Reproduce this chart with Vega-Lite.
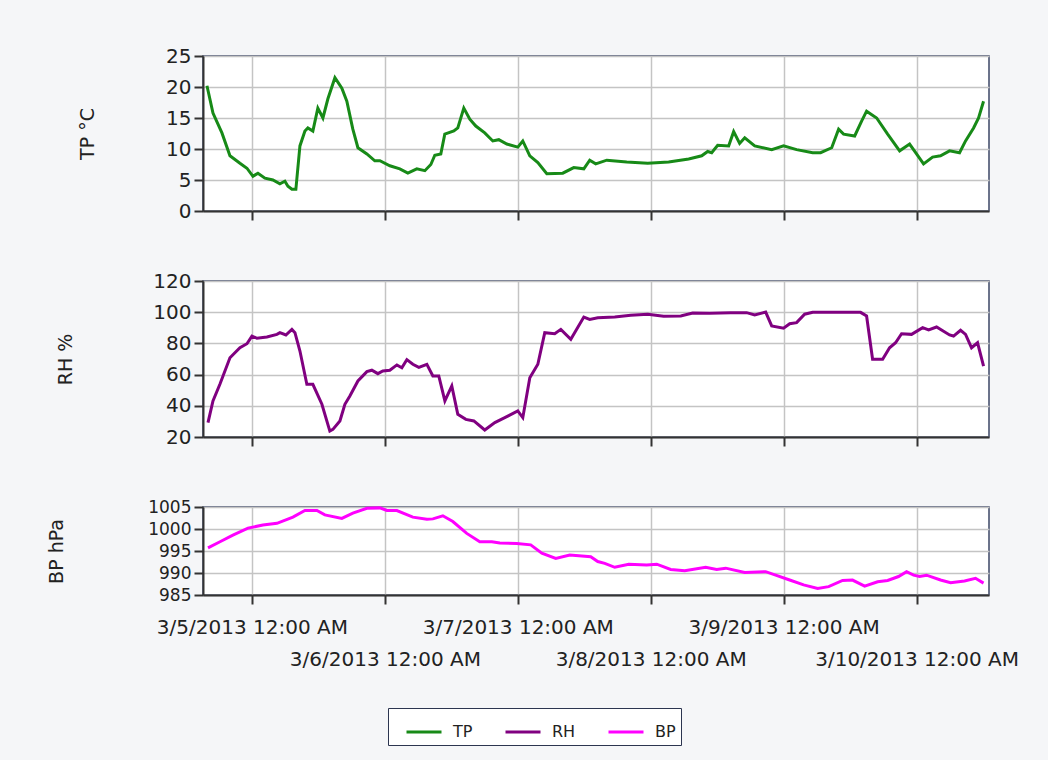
{
 "$schema": "https://vega.github.io/schema/vega-lite/v6.json",
 "background": "#f5f6f8",
 "padding": {"left": 46, "top": 45, "right": 35, "bottom": 18},
 "bounds": "flush",
 "spacing": 70,
 "datasets": {
  "d": [
   {"t":"2013-03-04T15:53Z","s":"TP","v":20.2},{"t":"2013-03-04T16:58Z","s":"TP","v":15.8},{"t":"2013-03-04T18:35Z","s":"TP","v":12.6},{"t":"2013-03-04T20:02Z","s":"TP","v":8.9},{"t":"2013-03-04T21:50Z","s":"TP","v":7.7},{"t":"2013-03-04T23:06Z","s":"TP","v":6.9},{"t":"2013-03-05T00:11Z","s":"TP","v":5.6},{"t":"2013-03-05T01:05Z","s":"TP","v":6.1},{"t":"2013-03-05T02:21Z","s":"TP","v":5.3},{"t":"2013-03-05T03:47Z","s":"TP","v":5.0},{"t":"2013-03-05T05:03Z","s":"TP","v":4.4},{"t":"2013-03-05T05:57Z","s":"TP","v":4.8},{"t":"2013-03-05T06:30Z","s":"TP","v":4.0},{"t":"2013-03-05T07:13Z","s":"TP","v":3.5},{"t":"2013-03-05T07:56Z","s":"TP","v":3.5},{"t":"2013-03-05T08:40Z","s":"TP","v":10.5},{"t":"2013-03-05T09:34Z","s":"TP","v":12.9},{"t":"2013-03-05T10:06Z","s":"TP","v":13.4},{"t":"2013-03-05T11:00Z","s":"TP","v":12.9},{"t":"2013-03-05T11:54Z","s":"TP","v":16.6},{"t":"2013-03-05T12:49Z","s":"TP","v":15.0},{"t":"2013-03-05T13:43Z","s":"TP","v":18.1},{"t":"2013-03-05T14:59Z","s":"TP","v":21.5},{"t":"2013-03-05T16:14Z","s":"TP","v":19.8},{"t":"2013-03-05T17:08Z","s":"TP","v":17.7},{"t":"2013-03-05T18:13Z","s":"TP","v":13.2},{"t":"2013-03-05T19:08Z","s":"TP","v":10.2},{"t":"2013-03-05T20:45Z","s":"TP","v":9.2},{"t":"2013-03-05T22:11Z","s":"TP","v":8.1},{"t":"2013-03-05T23:06Z","s":"TP","v":8.1},{"t":"2013-03-06T00:54Z","s":"TP","v":7.3},{"t":"2013-03-06T02:42Z","s":"TP","v":6.8},{"t":"2013-03-06T04:09Z","s":"TP","v":6.1},{"t":"2013-03-06T05:46Z","s":"TP","v":6.8},{"t":"2013-03-06T07:13Z","s":"TP","v":6.5},{"t":"2013-03-06T08:18Z","s":"TP","v":7.5},{"t":"2013-03-06T09:01Z","s":"TP","v":9.0},{"t":"2013-03-06T10:06Z","s":"TP","v":9.2},{"t":"2013-03-06T10:49Z","s":"TP","v":12.4},{"t":"2013-03-06T12:27Z","s":"TP","v":12.9},{"t":"2013-03-06T13:10Z","s":"TP","v":13.4},{"t":"2013-03-06T14:15Z","s":"TP","v":16.6},{"t":"2013-03-06T15:20Z","s":"TP","v":14.8},{"t":"2013-03-06T16:25Z","s":"TP","v":13.7},{"t":"2013-03-06T18:02Z","s":"TP","v":12.6},{"t":"2013-03-06T19:29Z","s":"TP","v":11.3},{"t":"2013-03-06T20:34Z","s":"TP","v":11.5},{"t":"2013-03-06T22:01Z","s":"TP","v":10.8},{"t":"2013-03-07T00:00Z","s":"TP","v":10.3},{"t":"2013-03-07T00:54Z","s":"TP","v":11.3},{"t":"2013-03-07T02:10Z","s":"TP","v":8.9},{"t":"2013-03-07T03:37Z","s":"TP","v":7.8},{"t":"2013-03-07T05:14Z","s":"TP","v":6.0},{"t":"2013-03-07T08:07Z","s":"TP","v":6.1},{"t":"2013-03-07T10:06Z","s":"TP","v":7.0},{"t":"2013-03-07T11:55Z","s":"TP","v":6.8},{"t":"2013-03-07T12:59Z","s":"TP","v":8.2},{"t":"2013-03-07T14:04Z","s":"TP","v":7.6},{"t":"2013-03-07T16:04Z","s":"TP","v":8.2},{"t":"2013-03-07T19:40Z","s":"TP","v":7.9},{"t":"2013-03-07T23:27Z","s":"TP","v":7.7},{"t":"2013-03-08T03:14Z","s":"TP","v":7.9},{"t":"2013-03-08T06:51Z","s":"TP","v":8.4},{"t":"2013-03-08T09:12Z","s":"TP","v":8.9},{"t":"2013-03-08T10:17Z","s":"TP","v":9.6},{"t":"2013-03-08T11:00Z","s":"TP","v":9.4},{"t":"2013-03-08T12:05Z","s":"TP","v":10.6},{"t":"2013-03-08T14:04Z","s":"TP","v":10.5},{"t":"2013-03-08T14:58Z","s":"TP","v":12.8},{"t":"2013-03-08T16:03Z","s":"TP","v":10.9},{"t":"2013-03-08T16:58Z","s":"TP","v":11.8},{"t":"2013-03-08T18:46Z","s":"TP","v":10.5},{"t":"2013-03-08T21:50Z","s":"TP","v":9.9},{"t":"2013-03-08T23:59Z","s":"TP","v":10.5},{"t":"2013-03-09T02:20Z","s":"TP","v":9.9},{"t":"2013-03-09T05:14Z","s":"TP","v":9.4},{"t":"2013-03-09T06:40Z","s":"TP","v":9.4},{"t":"2013-03-09T08:40Z","s":"TP","v":10.2},{"t":"2013-03-09T09:55Z","s":"TP","v":13.2},{"t":"2013-03-09T10:49Z","s":"TP","v":12.4},{"t":"2013-03-09T12:49Z","s":"TP","v":12.1},{"t":"2013-03-09T14:04Z","s":"TP","v":14.5},{"t":"2013-03-09T14:58Z","s":"TP","v":16.1},{"t":"2013-03-09T16:47Z","s":"TP","v":15.0},{"t":"2013-03-09T18:46Z","s":"TP","v":12.4},{"t":"2013-03-09T20:56Z","s":"TP","v":9.7},{"t":"2013-03-09T22:44Z","s":"TP","v":10.8},{"t":"2013-03-09T23:59Z","s":"TP","v":9.2},{"t":"2013-03-10T01:15Z","s":"TP","v":7.6},{"t":"2013-03-10T02:53Z","s":"TP","v":8.7},{"t":"2013-03-10T04:19Z","s":"TP","v":8.9},{"t":"2013-03-10T05:57Z","s":"TP","v":9.7},{"t":"2013-03-10T07:45Z","s":"TP","v":9.4},{"t":"2013-03-10T08:50Z","s":"TP","v":11.3},{"t":"2013-03-10T10:17Z","s":"TP","v":13.4},{"t":"2013-03-10T11:11Z","s":"TP","v":15.0},{"t":"2013-03-10T12:05Z","s":"TP","v":17.7},
   {"t":"2013-03-04T16:04Z","s":"RH","v":29.2},{"t":"2013-03-04T16:58Z","s":"RH","v":43.1},{"t":"2013-03-04T18:14Z","s":"RH","v":54},{"t":"2013-03-04T20:02Z","s":"RH","v":70.8},{"t":"2013-03-04T21:50Z","s":"RH","v":77.2},{"t":"2013-03-04T23:06Z","s":"RH","v":79.8},{"t":"2013-03-05T00:00Z","s":"RH","v":84.7},{"t":"2013-03-05T00:54Z","s":"RH","v":83.3},{"t":"2013-03-05T02:42Z","s":"RH","v":84.1},{"t":"2013-03-05T04:31Z","s":"RH","v":85.8},{"t":"2013-03-05T05:03Z","s":"RH","v":86.9},{"t":"2013-03-05T06:08Z","s":"RH","v":85.4},{"t":"2013-03-05T07:13Z","s":"RH","v":89},{"t":"2013-03-05T07:46Z","s":"RH","v":86.9},{"t":"2013-03-05T08:40Z","s":"RH","v":75.1},{"t":"2013-03-05T09:55Z","s":"RH","v":53.8},{"t":"2013-03-05T11:00Z","s":"RH","v":53.8},{"t":"2013-03-05T12:38Z","s":"RH","v":41},{"t":"2013-03-05T14:04Z","s":"RH","v":23.8},{"t":"2013-03-05T14:37Z","s":"RH","v":24.9},{"t":"2013-03-05T15:53Z","s":"RH","v":30.3},{"t":"2013-03-05T16:47Z","s":"RH","v":41},{"t":"2013-03-05T17:41Z","s":"RH","v":46.3},{"t":"2013-03-05T19:08Z","s":"RH","v":55.9},{"t":"2013-03-05T20:45Z","s":"RH","v":61.9},{"t":"2013-03-05T21:39Z","s":"RH","v":62.8},{"t":"2013-03-05T22:44Z","s":"RH","v":60.6},{"t":"2013-03-05T23:38Z","s":"RH","v":62.3},{"t":"2013-03-06T00:54Z","s":"RH","v":62.8},{"t":"2013-03-06T02:10Z","s":"RH","v":66.2},{"t":"2013-03-06T03:04Z","s":"RH","v":64.4},{"t":"2013-03-06T03:58Z","s":"RH","v":69.6},{"t":"2013-03-06T05:03Z","s":"RH","v":66.6},{"t":"2013-03-06T06:08Z","s":"RH","v":64.6},{"t":"2013-03-06T07:35Z","s":"RH","v":66.6},{"t":"2013-03-06T08:40Z","s":"RH","v":59.1},{"t":"2013-03-06T09:44Z","s":"RH","v":59.1},{"t":"2013-03-06T10:50Z","s":"RH","v":43.1},{"t":"2013-03-06T12:05Z","s":"RH","v":52.7},{"t":"2013-03-06T13:10Z","s":"RH","v":34.5},{"t":"2013-03-06T14:37Z","s":"RH","v":31.3},{"t":"2013-03-06T16:04Z","s":"RH","v":30.3},{"t":"2013-03-06T18:02Z","s":"RH","v":24.5},{"t":"2013-03-06T19:51Z","s":"RH","v":29.2},{"t":"2013-03-06T21:39Z","s":"RH","v":32.4},{"t":"2013-03-07T00:00Z","s":"RH","v":36.7},{"t":"2013-03-07T00:54Z","s":"RH","v":32.4},{"t":"2013-03-07T02:10Z","s":"RH","v":58.0},{"t":"2013-03-07T03:37Z","s":"RH","v":66.6},{"t":"2013-03-07T04:52Z","s":"RH","v":86.9},{"t":"2013-03-07T06:40Z","s":"RH","v":86.2},{"t":"2013-03-07T07:46Z","s":"RH","v":89},{"t":"2013-03-07T09:34Z","s":"RH","v":82.6},{"t":"2013-03-07T11:55Z","s":"RH","v":96.9},{"t":"2013-03-07T12:59Z","s":"RH","v":95.4},{"t":"2013-03-07T14:26Z","s":"RH","v":96.5},{"t":"2013-03-07T17:30Z","s":"RH","v":96.9},{"t":"2013-03-07T20:23Z","s":"RH","v":98},{"t":"2013-03-07T23:27Z","s":"RH","v":98.7},{"t":"2013-03-08T02:20Z","s":"RH","v":97.4},{"t":"2013-03-08T05:25Z","s":"RH","v":97.6},{"t":"2013-03-08T07:34Z","s":"RH","v":99.5},{"t":"2013-03-08T10:38Z","s":"RH","v":99.3},{"t":"2013-03-08T14:26Z","s":"RH","v":99.7},{"t":"2013-03-08T17:19Z","s":"RH","v":99.7},{"t":"2013-03-08T18:46Z","s":"RH","v":98.2},{"t":"2013-03-08T20:45Z","s":"RH","v":100.1},{"t":"2013-03-08T21:50Z","s":"RH","v":91.2},{"t":"2013-03-08T23:59Z","s":"RH","v":89.7},{"t":"2013-03-09T01:05Z","s":"RH","v":92.6},{"t":"2013-03-09T02:20Z","s":"RH","v":93.3},{"t":"2013-03-09T03:47Z","s":"RH","v":98.7},{"t":"2013-03-09T05:14Z","s":"RH","v":99.9},{"t":"2013-03-09T09:01Z","s":"RH","v":99.9},{"t":"2013-03-09T13:53Z","s":"RH","v":99.9},{"t":"2013-03-09T14:58Z","s":"RH","v":97.6},{"t":"2013-03-09T16:03Z","s":"RH","v":69.8},{"t":"2013-03-09T17:52Z","s":"RH","v":69.8},{"t":"2013-03-09T19:07Z","s":"RH","v":77.2},{"t":"2013-03-09T20:12Z","s":"RH","v":80.4},{"t":"2013-03-09T21:17Z","s":"RH","v":86.2},{"t":"2013-03-09T23:05Z","s":"RH","v":85.8},{"t":"2013-03-10T01:05Z","s":"RH","v":90.1},{"t":"2013-03-10T02:10Z","s":"RH","v":88.6},{"t":"2013-03-10T03:36Z","s":"RH","v":90.5},{"t":"2013-03-10T05:57Z","s":"RH","v":85.4},{"t":"2013-03-10T06:40Z","s":"RH","v":84.7},{"t":"2013-03-10T07:56Z","s":"RH","v":88.4},{"t":"2013-03-10T08:50Z","s":"RH","v":85.8},{"t":"2013-03-10T09:55Z","s":"RH","v":77.2},{"t":"2013-03-10T11:00Z","s":"RH","v":80.4},{"t":"2013-03-10T12:05Z","s":"RH","v":65.5},
   {"t":"2013-03-04T16:04Z","s":"BP","v":995.7},{"t":"2013-03-04T18:14Z","s":"BP","v":997.1},{"t":"2013-03-04T20:34Z","s":"BP","v":998.6},{"t":"2013-03-04T23:17Z","s":"BP","v":1000.2},{"t":"2013-03-05T01:59Z","s":"BP","v":1000.9},{"t":"2013-03-05T04:31Z","s":"BP","v":1001.3},{"t":"2013-03-05T07:24Z","s":"BP","v":1002.7},{"t":"2013-03-05T09:34Z","s":"BP","v":1004.2},{"t":"2013-03-05T11:44Z","s":"BP","v":1004.2},{"t":"2013-03-05T13:10Z","s":"BP","v":1003.2},{"t":"2013-03-05T16:14Z","s":"BP","v":1002.4},{"t":"2013-03-05T18:13Z","s":"BP","v":1003.6},{"t":"2013-03-05T20:45Z","s":"BP","v":1004.7},{"t":"2013-03-05T23:06Z","s":"BP","v":1004.8},{"t":"2013-03-06T00:22Z","s":"BP","v":1004.2},{"t":"2013-03-06T02:10Z","s":"BP","v":1004.2},{"t":"2013-03-06T05:03Z","s":"BP","v":1002.7},{"t":"2013-03-06T07:35Z","s":"BP","v":1002.2},{"t":"2013-03-06T08:40Z","s":"BP","v":1002.3},{"t":"2013-03-06T10:28Z","s":"BP","v":1003.0},{"t":"2013-03-06T12:16Z","s":"BP","v":1001.7},{"t":"2013-03-06T14:47Z","s":"BP","v":999.0},{"t":"2013-03-06T17:08Z","s":"BP","v":997.1},{"t":"2013-03-06T19:19Z","s":"BP","v":997.1},{"t":"2013-03-06T20:45Z","s":"BP","v":996.8},{"t":"2013-03-06T23:49Z","s":"BP","v":996.7},{"t":"2013-03-07T02:20Z","s":"BP","v":996.4},{"t":"2013-03-07T04:20Z","s":"BP","v":994.5},{"t":"2013-03-07T06:51Z","s":"BP","v":993.3},{"t":"2013-03-07T09:23Z","s":"BP","v":994.1},{"t":"2013-03-07T13:10Z","s":"BP","v":993.7},{"t":"2013-03-07T14:26Z","s":"BP","v":992.6},{"t":"2013-03-07T15:42Z","s":"BP","v":992.2},{"t":"2013-03-07T17:30Z","s":"BP","v":991.3},{"t":"2013-03-07T20:02Z","s":"BP","v":992.0},{"t":"2013-03-07T23:16Z","s":"BP","v":991.8},{"t":"2013-03-08T01:05Z","s":"BP","v":992.0},{"t":"2013-03-08T03:36Z","s":"BP","v":990.8},{"t":"2013-03-08T06:08Z","s":"BP","v":990.5},{"t":"2013-03-08T09:55Z","s":"BP","v":991.3},{"t":"2013-03-08T11:54Z","s":"BP","v":990.8},{"t":"2013-03-08T13:32Z","s":"BP","v":991.1},{"t":"2013-03-08T16:58Z","s":"BP","v":990.1},{"t":"2013-03-08T20:45Z","s":"BP","v":990.3},{"t":"2013-03-08T22:33Z","s":"BP","v":989.5},{"t":"2013-03-09T01:05Z","s":"BP","v":988.4},{"t":"2013-03-09T03:36Z","s":"BP","v":987.3},{"t":"2013-03-09T06:08Z","s":"BP","v":986.5},{"t":"2013-03-09T08:07Z","s":"BP","v":986.9},{"t":"2013-03-09T10:38Z","s":"BP","v":988.3},{"t":"2013-03-09T12:26Z","s":"BP","v":988.4},{"t":"2013-03-09T14:37Z","s":"BP","v":987.0},{"t":"2013-03-09T16:58Z","s":"BP","v":988.0},{"t":"2013-03-09T18:46Z","s":"BP","v":988.3},{"t":"2013-03-09T20:44Z","s":"BP","v":989.2},{"t":"2013-03-09T22:11Z","s":"BP","v":990.3},{"t":"2013-03-09T23:27Z","s":"BP","v":989.5},{"t":"2013-03-10T00:32Z","s":"BP","v":989.2},{"t":"2013-03-10T01:48Z","s":"BP","v":989.5},{"t":"2013-03-10T04:19Z","s":"BP","v":988.4},{"t":"2013-03-10T06:08Z","s":"BP","v":987.8},{"t":"2013-03-10T08:39Z","s":"BP","v":988.2},{"t":"2013-03-10T10:38Z","s":"BP","v":988.8},{"t":"2013-03-10T12:05Z","s":"BP","v":987.7}
  ]
 },
 "data": {"name": "d"},
 "vconcat": [
  {
   "width": 786, "height": 155,
   "transform": [{"filter": "datum.s == 'TP'"}],
   "mark": {"type": "line", "strokeWidth": 3},
   "encoding": {
    "x": {"field": "t", "type": "temporal",
     "scale": {"type": "utc", "domain": [{"year": 2013, "month": 3, "date": 4, "hours": 15, "minutes": 10, "utc": true}, {"year": 2013, "month": 3, "date": 10, "hours": 13, "minutes": 4, "utc": true}]},
     "axis": {"title": null, "labels": false, "values": [{"year": 2013, "month": 3, "date": 5, "utc": true}, {"year": 2013, "month": 3, "date": 6, "utc": true}, {"year": 2013, "month": 3, "date": 7, "utc": true}, {"year": 2013, "month": 3, "date": 8, "utc": true}, {"year": 2013, "month": 3, "date": 9, "utc": true}, {"year": 2013, "month": 3, "date": 10, "utc": true}]}},
    "y": {"field": "v", "type": "quantitative", "scale": {"domain": [0, 25], "nice": false, "zero": false},
     "axis": {"values": [0, 5, 10, 15, 20, 25], "title": "TP °C", "titlePadding": 68}},
    "color": {"field": "s", "type": "nominal", "scale": {"domain": ["TP", "RH", "BP"], "range": ["#178a17", "#800080", "#ff00ff"]},
     "legend": {"title": null, "orient": "none", "legendX": 185, "legendY": 652, "direction": "horizontal", "symbolType": "stroke", "symbolSize": 1225, "symbolStrokeWidth": 3, "labelFontSize": 16, "labelOffset": 10, "columnPadding": 19, "padding": 5, "symbolOffset": 12, "strokeColor": "#2c3550", "fillColor": "white"}}
   }
  },
  {
   "width": 786, "height": 156,
   "transform": [{"filter": "datum.s == 'RH'"}],
   "mark": {"type": "line", "strokeWidth": 3},
   "encoding": {
    "x": {"field": "t", "type": "temporal",
     "scale": {"type": "utc", "domain": [{"year": 2013, "month": 3, "date": 4, "hours": 15, "minutes": 10, "utc": true}, {"year": 2013, "month": 3, "date": 10, "hours": 13, "minutes": 4, "utc": true}]},
     "axis": {"title": null, "labels": false, "values": [{"year": 2013, "month": 3, "date": 5, "utc": true}, {"year": 2013, "month": 3, "date": 6, "utc": true}, {"year": 2013, "month": 3, "date": 7, "utc": true}, {"year": 2013, "month": 3, "date": 8, "utc": true}, {"year": 2013, "month": 3, "date": 9, "utc": true}, {"year": 2013, "month": 3, "date": 10, "utc": true}]}},
    "y": {"field": "v", "type": "quantitative", "scale": {"domain": [20, 120], "nice": false, "zero": false},
     "axis": {"values": [20, 40, 60, 80, 100, 120], "title": "RH %", "titlePadding": 77}},
    "color": {"field": "s", "type": "nominal", "scale": {"domain": ["TP", "RH", "BP"], "range": ["#178a17", "#800080", "#ff00ff"]}}
   }
  },
  {
   "width": 786, "height": 88,
   "transform": [{"filter": "datum.s == 'BP'"}],
   "mark": {"type": "line", "strokeWidth": 3},
   "encoding": {
    "x": {"field": "t", "type": "temporal",
     "scale": {"type": "utc", "domain": [{"year": 2013, "month": 3, "date": 4, "hours": 15, "minutes": 10, "utc": true}, {"year": 2013, "month": 3, "date": 10, "hours": 13, "minutes": 4, "utc": true}]},
     "axis": {"title": null, "labelOverlap": false, "labelFlush": false, "labelBound": false, "labelLimit": 0, "labelBaseline": "top", "labelPadding": 13, "labelLineHeight": 32, "labelFontSize": 20,
      "labelExpr": "utcdate(datum.value) % 2 == 1 ? [(utcmonth(datum.value) + 1) + '/' + utcdate(datum.value) + '/2013 12:00 AM'] : ['', (utcmonth(datum.value) + 1) + '/' + utcdate(datum.value) + '/2013 12:00 AM']",
      "values": [{"year": 2013, "month": 3, "date": 5, "utc": true}, {"year": 2013, "month": 3, "date": 6, "utc": true}, {"year": 2013, "month": 3, "date": 7, "utc": true}, {"year": 2013, "month": 3, "date": 8, "utc": true}, {"year": 2013, "month": 3, "date": 9, "utc": true}, {"year": 2013, "month": 3, "date": 10, "utc": true}]}},
    "y": {"field": "v", "type": "quantitative", "scale": {"domain": [985, 1005], "nice": false, "zero": false},
     "axis": {"values": [985, 990, 995, 1000, 1005], "format": "d", "title": "BP hPa", "titlePadding": 81, "labelFontSize": 17}},
    "color": {"field": "s", "type": "nominal", "scale": {"domain": ["TP", "RH", "BP"], "range": ["#178a17", "#800080", "#ff00ff"]}}
   }
  }
 ],
 "config": {
  "font": "DejaVu Sans",
  "view": {"stroke": "#3d4766", "strokeWidth": 1.5, "fill": "white"},
  "axis": {"domainColor": "#333333", "domainWidth": 2, "tickColor": "#333333", "tickWidth": 2, "tickSize": 9, "gridColor": "#c4c4c4", "gridWidth": 1.5, "labelFont": "DejaVu Sans", "labelFontSize": 20, "labelColor": "#222222", "labelPadding": 3, "titleFont": "DejaVu Sans", "titleFontSize": 19, "titleFontWeight": "normal", "titleColor": "#222222"},
  "legend": {"labelFont": "DejaVu Sans", "labelColor": "#222222"}
 }
}
